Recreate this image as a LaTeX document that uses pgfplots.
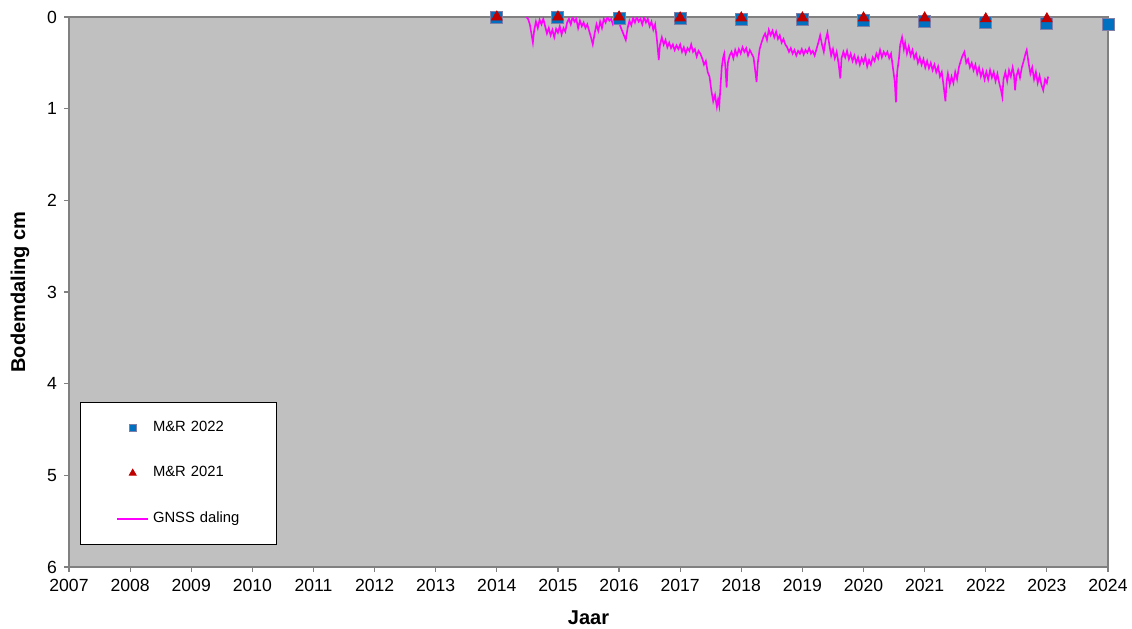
\documentclass[border=0pt]{standalone}
\usepackage{fontspec}
\setmainfont{Liberation Sans}
\usepackage{pgfplots}
\pgfplotsset{compat=1.18}

\definecolor{bggray}{HTML}{C0C0C0}
\definecolor{axgray}{HTML}{808080}
\definecolor{mrblue}{HTML}{0070C0}
\definecolor{mredge}{HTML}{7F7FA8}
\definecolor{mrred}{HTML}{C00000}
\definecolor{gnss}{HTML}{FF00FF}

\pgfplotsset{
  sqlegend/.style={legend image code/.code={\path (-2pt,0pt); \draw[##1, mark size=1.8pt] plot coordinates {(7.75pt,0pt)};}},
  trilegend/.style={legend image code/.code={\path (-2pt,0pt); \draw[##1, mark size=2pt] plot coordinates {(7.75pt,0pt)};}},
  linelegend/.style={legend image code/.code={\path (-2pt,0pt); \draw[##1] (0pt,0pt) -- (15.5pt,0pt);}},
}

\begin{document}
\begin{tikzpicture}
\begin{axis}[
    scale only axis,
    width=519.5pt, height=275pt,
    xmin=2007, xmax=2024,
    ymin=0, ymax=6,
    y dir=reverse,
    xtick={2007,2008,...,2024},
    ytick={0,1,...,6},
    /pgf/number format/.cd, 1000 sep={}, assume math mode=true,
    /pgfplots/.cd,
    tick align=outside,
    xtick pos=left, ytick pos=left,
    major tick length=2.5pt,
    tick style={axgray, line width=0.6pt},
    axis line style={axgray, line width=0.8pt},
    axis background/.style={fill=bggray},
    ticklabel style={font=\fontsize{8.8}{10}\selectfont},
    xlabel={\textbf{Jaar}},
    ylabel={\textbf{Bodemdaling cm}},
    label style={font=\fontsize{10}{12}\selectfont},
    xlabel style={yshift=-2.5pt},
    ylabel style={yshift=2pt},
    legend style={draw=black, fill=white, at={(0.0106,0.04)}, anchor=south west,
        font=\fontsize{7.4}{9}\selectfont, row sep=12pt, inner xsep=16pt, inner ysep=7.5pt,
        nodes={text width=43.5pt, align=left}},
    legend cell align=left,
]
\addplot[only marks, mark=square*, mark size=3pt, mark options={fill=mrblue, draw=mredge, line width=0.5pt}, sqlegend]
  coordinates {
  (2014,0.01) (2015,0.01) (2016,0.02) (2017,0.02) (2018,0.03) (2019,0.03)
  (2020,0.04) (2021,0.05) (2022,0.06) (2023,0.07) (2024,0.08)
};
\addlegendentry{M\&R 2022}
\addplot[only marks, mark=triangle*, mark size=3pt, mark options={fill=mrred, draw=mrred}, trilegend]
  coordinates {
  (2014,0.00) (2015,0.00) (2016,0.00) (2017,0.01) (2018,0.01) (2019,0.01)
  (2020,0.01) (2021,0.01) (2022,0.02) (2023,0.02)
};
\addlegendentry{M\&R 2021}
\addplot[gnss, line width=0.8pt, no marks, linelegend]
  table {
2014.48 0.00
2014.51 0.02
2014.54 0.08
2014.57 0.20
2014.59 0.28
2014.61 0.15
2014.64 0.05
2014.67 0.12
2014.70 0.03
2014.73 0.08
2014.76 0.02
2014.79 0.10
2014.82 0.18
2014.85 0.12
2014.88 0.20
2014.91 0.14
2014.94 0.22
2014.97 0.13
2015.00 0.17
2015.03 0.10
2015.06 0.19
2015.09 0.12
2015.12 0.16
2015.15 0.06
2015.18 0.02
2015.21 0.08
2015.24 0.00
2015.27 0.05
2015.30 0.02
2015.33 0.12
2015.36 0.04
2015.39 0.10
2015.42 0.06
2015.45 0.12
2015.48 0.08
2015.51 0.15
2015.54 0.22
2015.57 0.30
2015.60 0.18
2015.63 0.08
2015.66 0.15
2015.69 0.05
2015.72 0.12
2015.75 0.02
2015.78 0.06
2015.81 0.00
2015.84 0.04
2015.87 0.02
2015.90 0.08
2015.93 0.03
2015.96 0.06
2015.99 0.02
2016.02 0.10
2016.05 0.15
2016.08 0.20
2016.11 0.25
2016.14 0.12
2016.17 0.04
2016.20 0.09
2016.23 0.01
2016.26 0.06
2016.29 0.00
2016.32 0.05
2016.35 0.02
2016.38 0.08
2016.41 0.00
2016.44 0.06
2016.47 0.02
2016.50 0.10
2016.53 0.05
2016.56 0.14
2016.59 0.08
2016.62 0.25
2016.65 0.47
2016.67 0.30
2016.70 0.22
2016.73 0.30
2016.76 0.25
2016.79 0.33
2016.82 0.28
2016.85 0.34
2016.88 0.30
2016.91 0.36
2016.94 0.31
2016.97 0.35
2017.00 0.30
2017.03 0.38
2017.06 0.33
2017.09 0.40
2017.12 0.34
2017.15 0.37
2017.18 0.30
2017.21 0.38
2017.24 0.35
2017.27 0.43
2017.30 0.37
2017.33 0.40
2017.36 0.45
2017.39 0.52
2017.42 0.48
2017.45 0.60
2017.48 0.65
2017.51 0.80
2017.54 0.92
2017.57 0.85
2017.60 0.98
2017.62 0.90
2017.64 0.97
2017.66 0.75
2017.68 0.55
2017.70 0.45
2017.72 0.40
2017.74 0.55
2017.76 0.77
2017.78 0.50
2017.81 0.42
2017.84 0.38
2017.87 0.45
2017.90 0.36
2017.93 0.42
2017.96 0.35
2017.99 0.40
2018.02 0.33
2018.05 0.38
2018.08 0.34
2018.11 0.42
2018.14 0.36
2018.17 0.40
2018.20 0.44
2018.23 0.60
2018.25 0.71
2018.27 0.50
2018.30 0.35
2018.33 0.28
2018.36 0.22
2018.39 0.18
2018.42 0.25
2018.45 0.14
2018.48 0.20
2018.51 0.15
2018.54 0.22
2018.57 0.16
2018.60 0.24
2018.63 0.20
2018.66 0.28
2018.69 0.24
2018.72 0.30
2018.75 0.33
2018.78 0.38
2018.81 0.34
2018.84 0.40
2018.87 0.36
2018.90 0.42
2018.93 0.37
2018.96 0.40
2018.99 0.35
2019.02 0.41
2019.05 0.36
2019.08 0.39
2019.11 0.34
2019.14 0.40
2019.17 0.37
2019.20 0.42
2019.23 0.35
2019.26 0.28
2019.29 0.20
2019.32 0.30
2019.35 0.38
2019.38 0.25
2019.41 0.17
2019.44 0.30
2019.47 0.42
2019.50 0.35
2019.53 0.45
2019.56 0.38
2019.59 0.50
2019.62 0.67
2019.64 0.45
2019.67 0.38
2019.70 0.44
2019.73 0.37
2019.76 0.46
2019.79 0.40
2019.82 0.48
2019.85 0.42
2019.88 0.50
2019.91 0.44
2019.94 0.52
2019.97 0.45
2020.00 0.50
2020.03 0.43
2020.06 0.54
2020.09 0.47
2020.12 0.52
2020.15 0.44
2020.18 0.48
2020.21 0.40
2020.24 0.45
2020.27 0.36
2020.30 0.44
2020.33 0.38
2020.36 0.42
2020.39 0.38
2020.42 0.45
2020.45 0.40
2020.48 0.55
2020.51 0.70
2020.53 0.93
2020.55 0.60
2020.58 0.45
2020.60 0.30
2020.63 0.22
2020.66 0.35
2020.68 0.28
2020.71 0.40
2020.74 0.32
2020.77 0.42
2020.80 0.36
2020.83 0.45
2020.86 0.40
2020.89 0.50
2020.92 0.44
2020.95 0.52
2020.98 0.46
2021.01 0.55
2021.04 0.48
2021.07 0.56
2021.10 0.50
2021.13 0.58
2021.16 0.52
2021.19 0.60
2021.22 0.54
2021.25 0.65
2021.28 0.60
2021.31 0.75
2021.34 0.92
2021.36 0.70
2021.38 0.62
2021.41 0.74
2021.44 0.65
2021.47 0.72
2021.50 0.60
2021.53 0.68
2021.56 0.55
2021.59 0.48
2021.62 0.42
2021.65 0.38
2021.68 0.50
2021.71 0.46
2021.74 0.55
2021.77 0.50
2021.80 0.58
2021.83 0.52
2021.86 0.62
2021.89 0.55
2021.92 0.65
2021.95 0.58
2021.98 0.68
2022.01 0.60
2022.04 0.68
2022.07 0.58
2022.10 0.66
2022.13 0.60
2022.16 0.70
2022.19 0.62
2022.22 0.72
2022.25 0.80
2022.27 0.87
2022.29 0.68
2022.32 0.60
2022.35 0.70
2022.38 0.58
2022.41 0.65
2022.44 0.55
2022.46 0.62
2022.48 0.80
2022.50 0.65
2022.53 0.58
2022.56 0.66
2022.59 0.55
2022.62 0.48
2022.65 0.40
2022.67 0.36
2022.70 0.50
2022.73 0.62
2022.76 0.55
2022.79 0.68
2022.82 0.60
2022.85 0.72
2022.88 0.64
2022.91 0.74
2022.94 0.80
2022.97 0.68
2023.00 0.72
2023.02 0.65
};
\addlegendentry{GNSS daling}
\end{axis}
\pgfresetboundingbox
\path (current axis.south west) ++(-34.5pt,-30.5pt) rectangle ++(566pt,314pt);
\end{tikzpicture}
\end{document}
